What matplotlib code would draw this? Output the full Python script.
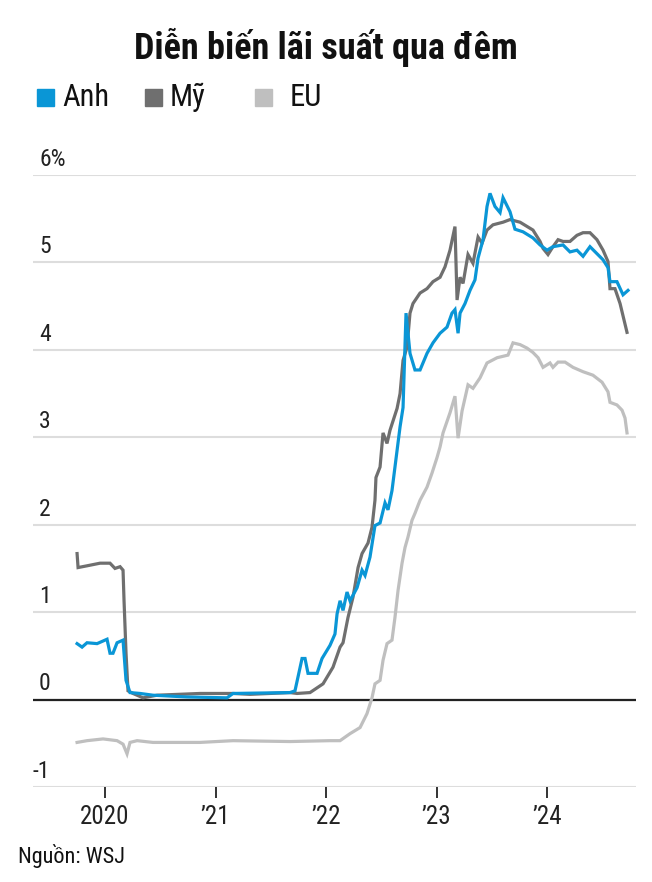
import matplotlib
matplotlib.use("Agg")
import matplotlib.pyplot as plt
from matplotlib.patches import Rectangle

# condensed face if one is installed, otherwise the normal width
plt.rcParams['font.family'] = ['Roboto Condensed', 'Noto Sans', 'DejaVu Sans']
plt.rcParams['font.stretch'] = 'condensed'

# --- data (decimal years, percent) ---
uk_t = [2019.747, 2019.792, 2019.837, 2019.928, 2020.018, 2020.045, 2020.072, 2020.109,
        2020.163, 2020.190, 2020.226, 2020.317, 2020.434, 2020.742, 2021.104, 2021.158,
        2021.674, 2021.719, 2021.783, 2021.810, 2021.837, 2021.919, 2021.964, 2022.036,
        2022.081, 2022.100, 2022.127, 2022.154, 2022.190, 2022.217, 2022.281, 2022.326,
        2022.353, 2022.398, 2022.443, 2022.489, 2022.534, 2022.561, 2022.597, 2022.643,
        2022.670, 2022.697, 2022.724, 2022.760, 2022.805, 2022.851, 2022.914, 2022.968,
        2023.032, 2023.095, 2023.140, 2023.167, 2023.195, 2023.213, 2023.258, 2023.303,
        2023.348, 2023.376, 2023.421, 2023.457, 2023.484, 2023.529, 2023.575, 2023.602,
        2023.665, 2023.710, 2023.783, 2023.873, 2023.937, 2024.000, 2024.054, 2024.145,
        2024.208, 2024.271, 2024.326, 2024.389, 2024.452, 2024.507, 2024.552, 2024.570,
        2024.633, 2024.688, 2024.733]
uk_v = [0.64, 0.60, 0.65, 0.64, 0.69, 0.53, 0.53, 0.65,
        0.68, 0.22, 0.08, 0.07, 0.05, 0.03, 0.02, 0.07,
        0.08, 0.10, 0.47, 0.47, 0.30, 0.30, 0.47, 0.62,
        0.75, 0.98, 1.13, 1.02, 1.23, 1.13, 1.28, 1.48,
        1.42, 1.63, 1.99, 2.02, 2.25, 2.17, 2.39, 2.85,
        3.12, 3.34, 4.42, 3.96, 3.77, 3.77, 3.96, 4.08,
        4.19, 4.26, 4.42, 4.46, 4.19, 4.42, 4.53, 4.68,
        4.80, 5.05, 5.26, 5.64, 5.79, 5.64, 5.57, 5.74,
        5.58, 5.38, 5.35, 5.28, 5.20, 5.14, 5.18, 5.20,
        5.12, 5.14, 5.07, 5.18, 5.10, 5.03, 4.94, 4.78,
        4.78, 4.63, 4.68]

us_t = [2019.747, 2019.756, 2019.837, 2019.955, 2020.045, 2020.090, 2020.136, 2020.163,
        2020.172, 2020.190, 2020.208, 2020.253, 2020.344, 2020.471, 2020.860, 2021.158,
        2021.312, 2021.674, 2021.738, 2021.855, 2021.973, 2022.063, 2022.127, 2022.154,
        2022.199, 2022.244, 2022.290, 2022.326, 2022.380, 2022.416, 2022.443, 2022.452,
        2022.489, 2022.516, 2022.552, 2022.579, 2022.643, 2022.670, 2022.697, 2022.733,
        2022.760, 2022.787, 2022.851, 2022.914, 2022.968, 2023.032, 2023.077, 2023.122,
        2023.167, 2023.186, 2023.213, 2023.240, 2023.285, 2023.330, 2023.376, 2023.412,
        2023.457, 2023.511, 2023.602, 2023.665, 2023.756, 2023.873, 2023.937, 2023.964,
        2024.009, 2024.054, 2024.100, 2024.145, 2024.208, 2024.271, 2024.326, 2024.389,
        2024.452, 2024.507, 2024.552, 2024.570, 2024.615, 2024.661, 2024.724]
us_v = [1.67, 1.51, 1.53, 1.56, 1.56, 1.50, 1.52, 1.48,
        1.13, 0.53, 0.10, 0.07, 0.02, 0.05, 0.07, 0.07,
        0.06, 0.08, 0.07, 0.08, 0.18, 0.37, 0.60, 0.65,
        0.94, 1.17, 1.51, 1.67, 1.79, 1.97, 2.28, 2.54,
        2.66, 3.05, 2.93, 3.08, 3.33, 3.50, 3.88, 4.03,
        4.42, 4.53, 4.65, 4.70, 4.78, 4.83, 4.95, 5.14,
        5.41, 4.57, 4.83, 4.76, 5.09, 4.99, 5.29, 5.22,
        5.37, 5.43, 5.46, 5.49, 5.46, 5.37, 5.24, 5.16,
        5.09, 5.18, 5.26, 5.24, 5.24, 5.31, 5.34, 5.34,
        5.26, 5.14, 5.01, 4.70, 4.70, 4.53, 4.20]

eu_t = [2019.747, 2019.837, 2019.982, 2020.109, 2020.163, 2020.199, 2020.226, 2020.290,
        2020.434, 2020.860, 2021.158, 2021.674, 2022.036, 2022.127, 2022.217, 2022.308,
        2022.371, 2022.416, 2022.443, 2022.489, 2022.516, 2022.552, 2022.597, 2022.624,
        2022.652, 2022.688, 2022.715, 2022.742, 2022.778, 2022.805, 2022.851, 2022.914,
        2022.959, 2023.005, 2023.032, 2023.059, 2023.122, 2023.167, 2023.195, 2023.231,
        2023.285, 2023.330, 2023.394, 2023.457, 2023.548, 2023.647, 2023.692, 2023.756,
        2023.819, 2023.873, 2023.919, 2023.964, 2024.027, 2024.054, 2024.100, 2024.163,
        2024.235, 2024.326, 2024.416, 2024.498, 2024.552, 2024.570, 2024.633, 2024.679,
        2024.706, 2024.724]
eu_v = [-0.49, -0.47, -0.45, -0.47, -0.51, -0.62, -0.49, -0.47,
        -0.49, -0.49, -0.47, -0.48, -0.47, -0.47, -0.39, -0.32,
        -0.16, 0.02, 0.18, 0.22, 0.45, 0.64, 0.68, 0.94,
        1.25, 1.56, 1.74, 1.86, 2.05, 2.13, 2.28, 2.43,
        2.59, 2.77, 2.89, 3.05, 3.28, 3.47, 2.99, 3.30,
        3.60, 3.56, 3.68, 3.85, 3.91, 3.94, 4.08, 4.06,
        4.02, 3.97, 3.91, 3.80, 3.85, 3.80, 3.86, 3.86,
        3.80, 3.75, 3.71, 3.63, 3.52, 3.40, 3.37, 3.31,
        3.22, 3.05]

series = [("EU", eu_t, eu_v, "#bfbfbf"),
          ("Mỹ", us_t, us_v, "#6f6f6f"),
          ("Anh", uk_t, uk_v, "#0a96d6")]

years = [2020, 2021, 2022, 2023, 2024]
year_labels = ["2020", "’21", "’22", "’23", "’24"]
y_ticks = [-1, 0, 1, 2, 3, 4, 5, 6]
y_labels = ["-1", "0", "1", "2", "3", "4", "5", "6%"]

fig = plt.figure(figsize=(6.52, 8.82), dpi=100)
ax = fig.add_axes([0.0506, 0.1077, 0.9248, 0.6939])

for name, t, v, c in series:
    ax.plot(t, v, color=c, lw=2.3, solid_joinstyle='miter', zorder=3)

ax.set_xlim(2019.348, 2024.805)
ax.set_ylim(-1, 6)
ax.set_yticks(y_ticks)
ax.yaxis.grid(True, color="#dddddd", lw=1.5)
ax.axhline(0, color="#222222", lw=1.6, zorder=2)
ax.tick_params(axis='y', length=0, labelleft=False)
for s in ax.spines.values():
    s.set_visible(False)

ax.set_xticks(years)
ax.set_xticklabels(year_labels, fontsize=18, color="#222222")
ax.tick_params(axis='x', direction='out', length=8, width=1.4, color="#333333", pad=5)

for v, lab in zip(y_ticks, y_labels):
    x0 = 0.0 if lab.startswith("-") else 0.01
    ax.annotate(lab, xy=(x0, v), xycoords=ax.get_yaxis_transform(),
                xytext=(0, 3), textcoords="offset points",
                ha="left", va="bottom", fontsize=17, color="#222222")

fig.text(0.5, 1 - 47 / 882, "Diễn biến lãi suất qua đêm", ha="center", va="center",
         fontsize=26, fontweight="bold", color="#111111")

# legend
legend_items = [("Anh", "#0a96d6", 37, 62), ("Mỹ", "#6f6f6f", 145, 170), ("EU", "#bfbfbf", 255, 290)]
for lab, c, sx, tx in legend_items:
    fig.patches.append(Rectangle((sx / 652, 1 - 106 / 882), 17 / 652, 17 / 882,
                                 transform=fig.transFigure, color=c, figure=fig))
    fig.text(tx / 652, 1 - 97 / 882, lab, ha="left", va="center", fontsize=22, color="#111111")

fig.text(18 / 652, 1 - 856 / 882, "Nguồn: WSJ", ha="left", va="center", fontsize=16, color="#111111")

fig.savefig("out.png", dpi=100)
